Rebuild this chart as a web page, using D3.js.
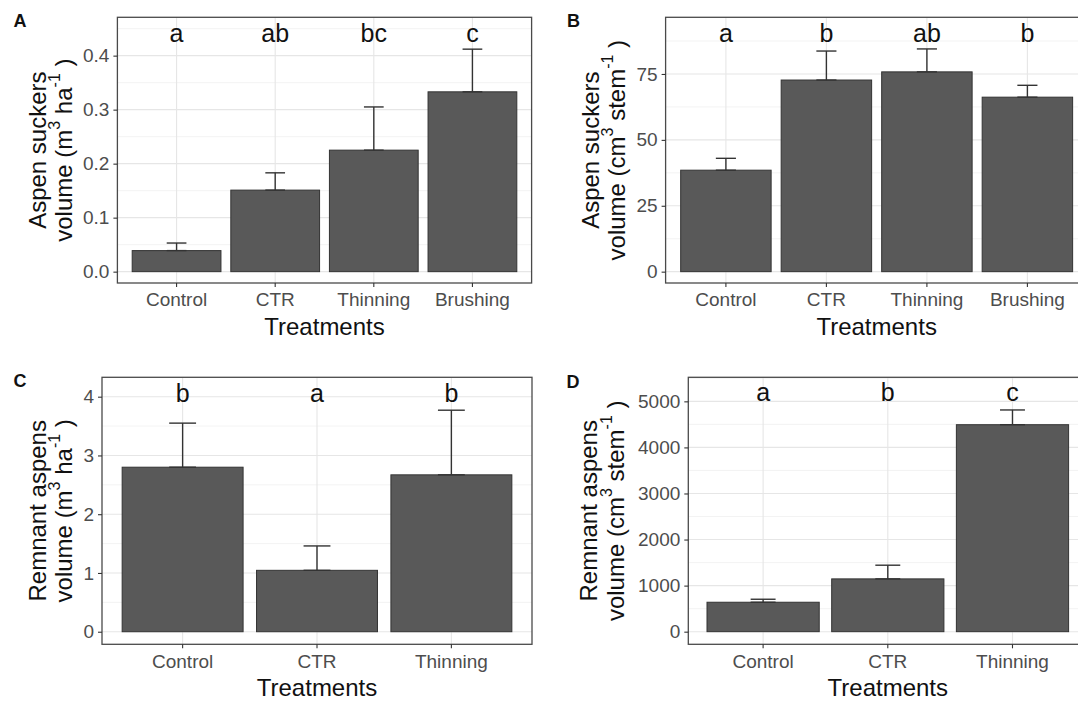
<!DOCTYPE html>
<html>
<head>
<meta charset="utf-8">
<script src="https://cdn.jsdelivr.net/npm/d3@7"></script>
<style>
  html, body { margin: 0; padding: 0; background: #fff; }
  svg { display: block; }
</style>
</head>
<body>
<svg id="fig" width="1078" height="702"></svg>
<script>
// ---- data -------------------------------------------------------------
const treatmentsSuckers = ["Control", "CTR", "Thinning", "Brushing"];
const treatmentsRemnant = ["Control", "CTR", "Thinning"];

// Aspen suckers volume (m3 ha-1): mean and standard error
const suckersVolHa   = [0.039, 0.151, 0.225, 0.333];
const suckersVolHaSE = [0.014, 0.032, 0.080, 0.079];
// Aspen suckers volume (cm3 stem-1)
const suckersVolStem   = [38.5, 72.7, 75.8, 66.2];
const suckersVolStemSE = [4.5, 11.0, 8.7, 4.5];
// Remnant aspens volume (m3 ha-1)
const remnantVolHa   = [2.80, 1.045, 2.67];
const remnantVolHaSE = [0.75, 0.415, 1.10];
// Remnant aspens volume (cm3 stem-1)
const remnantVolStem   = [639, 1146, 4493];
const remnantVolStemSE = [65, 297, 320];

// Significance groups
const lettersA = ["a", "ab", "bc", "c"];
const lettersB = ["a", "b", "ab", "b"];
const lettersC = ["b", "a", "b"];
const lettersD = ["a", "b", "c"];

// Y-axis tick values
const ticksA = [0, 0.1, 0.2, 0.3, 0.4];
const ticksB = [0, 25, 50, 75];
const ticksC = [0, 1, 2, 3, 4];
const ticksD = [0, 1000, 2000, 3000, 4000, 5000];

// Axis title pieces (sup = superscript)
const titleSuckersHa = [[{t: "Aspen suckers"}],
  [{t: "volume (m"}, {t: "3", sup: true}, {t: " ha"}, {t: "-1", sup: true}, {t: " )"}]];
const titleSuckersStem = [[{t: "Aspen suckers"}],
  [{t: "volume (cm"}, {t: "3", sup: true}, {t: " stem"}, {t: "-1", sup: true}, {t: " )"}]];
const titleRemnantHa = [[{t: "Remnant aspens"}],
  [{t: "volume (m"}, {t: "3", sup: true}, {t: " ha"}, {t: "-1", sup: true}, {t: " )"}]];
const titleRemnantStem = [[{t: "Remnant aspens"}],
  [{t: "volume (cm"}, {t: "3", sup: true}, {t: " stem"}, {t: "-1", sup: true}, {t: " )"}]];

// ---- layout -----------------------------------------------------------
const FONT = "'Liberation Sans', Arial, Helvetica, sans-serif";
const panels = [
  { tag: "A", tagX: 13.5, tagY: 27, box: {l: 117.4, r: 531.6, t: 17.3, b: 283},
    cats: treatmentsSuckers, vals: suckersVolHa, se: suckersVolHaSE, letters: lettersA,
    letterY: 0.426, domain: [-0.021, 0.471], ticks: ticksA, fmt: d3.format(".1f"), minor: 0.05,
    title: titleSuckersHa, titleX: [37, 63] },
  { tag: "B", tagX: 567, tagY: 27, box: {l: 665.6, r: 1087.7, t: 17.3, b: 283},
    cats: treatmentsSuckers, vals: suckersVolStem, se: suckersVolStemSE, letters: lettersB,
    letterY: 87.3, domain: [-4.3, 96.5], ticks: ticksB, fmt: d3.format("d"), minor: 12.5,
    title: titleSuckersStem, titleX: [590, 616] },
  { tag: "C", tagX: 13.5, tagY: 387, box: {l: 102, r: 532, t: 377.3, b: 644.3},
    cats: treatmentsRemnant, vals: remnantVolHa, se: remnantVolHaSE, letters: lettersC,
    letterY: 3.91, domain: [-0.214, 4.33], ticks: ticksC, fmt: d3.format("d"), minor: 0.5,
    title: titleRemnantHa, titleX: [37, 63] },
  { tag: "D", tagX: 566.5, tagY: 388, box: {l: 688.3, r: 1087.3, t: 377.3, b: 644.3},
    cats: treatmentsRemnant, vals: remnantVolStem, se: remnantVolStemSE, letters: lettersD,
    letterY: 5000, domain: [-274, 5522], ticks: ticksD, fmt: d3.format("d"), minor: 500,
    title: titleRemnantStem, titleX: [588, 615] }
];

const svg = d3.select("#fig").style("font-family", FONT);
svg.append("rect").attr("width", 1078).attr("height", 702).attr("fill", "#fff");

panels.forEach(p => {
  const {l, r, t, b} = p.box;
  const g = svg.append("g");

  const x = d3.scaleBand().domain(p.cats).range([l, r])
    .paddingInner(0.1).paddingOuter(0.15);
  const y = d3.scaleLinear().domain(p.domain).range([b, t]);
  const step = x.step();

  // minor gridlines
  const minorVals = d3.range(p.ticks[0] + p.minor, p.domain[1], p.minor * 2)
    .filter(v => v > p.domain[0] && v < p.domain[1]);
  g.append("g").selectAll("line").data(minorVals).join("line")
    .attr("x1", l).attr("x2", r)
    .attr("y1", d => y(d)).attr("y2", d => y(d))
    .attr("stroke", "#f0f0f0").attr("stroke-width", 0.8);

  // major gridlines
  g.append("g").selectAll("line").data(p.ticks).join("line")
    .attr("x1", l).attr("x2", r)
    .attr("y1", d => y(d)).attr("y2", d => y(d))
    .attr("stroke", "#e6e6e6").attr("stroke-width", 1.1);
  g.append("g").selectAll("line").data(p.cats).join("line")
    .attr("x1", d => x(d) + x.bandwidth() / 2).attr("x2", d => x(d) + x.bandwidth() / 2)
    .attr("y1", t).attr("y2", b)
    .attr("stroke", "#e6e6e6").attr("stroke-width", 1.1);

  // bars
  g.append("g").selectAll("rect").data(p.cats).join("rect")
    .attr("x", d => x(d))
    .attr("width", x.bandwidth())
    .attr("y", (d, i) => y(p.vals[i]))
    .attr("height", (d, i) => y(0) - y(p.vals[i]))
    .attr("fill", "#595959")
    .attr("stroke", "#333").attr("stroke-width", 1);

  // error bars (mean to mean + SE)
  const eb = g.append("g").attr("stroke", "#333").attr("stroke-width", 1.4);
  p.cats.forEach((c, i) => {
    const cx = x(c) + x.bandwidth() / 2;
    const hw = step * 0.1;
    const y0 = y(p.vals[i]), y1 = y(p.vals[i] + p.se[i]);
    eb.append("line").attr("x1", cx).attr("x2", cx).attr("y1", y0).attr("y2", y1);
    eb.append("line").attr("x1", cx - hw).attr("x2", cx + hw).attr("y1", y1).attr("y2", y1);
    eb.append("line").attr("x1", cx - hw).attr("x2", cx + hw).attr("y1", y0).attr("y2", y0);
  });

  // significance letters
  g.append("g").selectAll("text").data(p.cats).join("text")
    .attr("x", d => x(d) + x.bandwidth() / 2)
    .attr("y", y(p.letterY))
    .attr("text-anchor", "middle")
    .attr("font-size", 25)
    .attr("fill", "#111")
    .text((d, i) => p.letters[i]);

  // panel border
  g.append("rect").attr("x", l).attr("y", t).attr("width", r - l).attr("height", b - t)
    .attr("fill", "none").attr("stroke", "#4a4a4a").attr("stroke-width", 1.3);

  // axes
  const yAxis = g.append("g").attr("transform", `translate(${l},0)`)
    .call(d3.axisLeft(y).tickValues(p.ticks).tickFormat(p.fmt).tickSize(4).tickPadding(4));
  const xAxis = g.append("g").attr("transform", `translate(0,${b})`)
    .call(d3.axisBottom(x).tickSize(4).tickPadding(6));
  [yAxis, xAxis].forEach(a => {
    a.attr("font-family", FONT).attr("font-size", 19);
    a.select(".domain").remove();
    a.selectAll(".tick line").attr("stroke", "#333").attr("stroke-width", 1.1);
    a.selectAll(".tick text").attr("fill", "#4d4d4d");
  });

  // x-axis title
  g.append("text")
    .attr("x", (l + r) / 2).attr("y", b + 52)
    .attr("text-anchor", "middle").attr("font-size", 24).attr("fill", "#111")
    .text("Treatments");

  // y-axis title, two lines, rotated
  const cy = (t + b) / 2;
  p.title.forEach((line, li) => {
    const tx = p.titleX[li];
    const txt = g.append("text")
      .attr("transform", `translate(${tx},${cy}) rotate(-90)`)
      .attr("text-anchor", "middle")
      .attr("dominant-baseline", "central")
      .attr("font-size", 24).attr("fill", "#111");
    line.forEach(seg => {
      if (seg.sup) {
        txt.append("tspan").attr("font-size", 16).attr("dy", -9).text(seg.t);
      } else {
        const ts = txt.append("tspan").text(seg.t);
        if (txt.selectAll("tspan").size() > 1) ts.attr("dy", 9);
      }
    });
  });

  // panel tag
  svg.append("text").attr("x", p.tagX).attr("y", p.tagY)
    .attr("font-size", 18).attr("font-weight", "bold").attr("fill", "#111")
    .text(p.tag);
});
</script>
</body>
</html>
